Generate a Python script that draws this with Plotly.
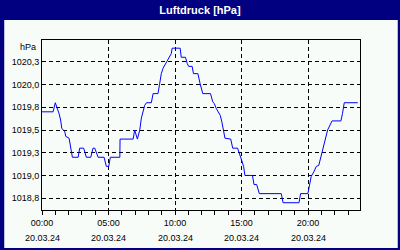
import plotly.graph_objects as go

# ---- data ----
times = ["00:00","00:50","01:00","01:06","01:17","01:24","01:29","01:43","01:47","02:02",
         "02:08","02:17","02:43","02:50","03:08","03:20","03:40","03:50","03:58","04:13",
         "04:40","04:50","05:01","05:08","05:51","05:52","06:51","06:58","07:10","07:21",
         "07:28","07:36","07:43","07:51","08:13","08:21","08:43","08:50","08:58","09:06",
         "09:13","09:20","09:28","09:35","09:43","09:47","10:23","10:28","10:47","10:55",
         "11:01","11:17","11:23","11:43","11:47","11:53","12:05","12:40","12:50","12:57",
         "13:05","13:15","13:24","13:31","13:39","13:45","14:11","14:20","14:42","14:49",
         "15:00","15:09","15:15","15:49","15:56","16:08","16:14","16:20","17:59","18:07",
         "19:19","19:26","19:59","20:06","20:14","20:26","20:37","20:48","20:56","21:03",
         "21:10","21:18","21:28","21:48","22:28","22:35","22:43","23:44"]
pressure = [1019.7,1019.7,1019.8,1019.76,1019.68,1019.61,1019.52,1019.48,1019.43,1019.41,
            1019.34,1019.2,1019.2,1019.3,1019.3,1019.2,1019.2,1019.3,1019.3,1019.2,
            1019.2,1019.1,1019.1,1019.2,1019.2,1019.4,1019.4,1019.5,1019.4,1019.5,
            1019.63,1019.7,1019.77,1019.8,1019.8,1019.9,1019.9,1020.0,1020.12,1020.18,
            1020.21,1020.25,1020.29,1020.32,1020.34,1020.4,1020.4,1020.3,1020.3,1020.23,
            1020.2,1020.2,1020.12,1020.12,1020.07,1020.01,1019.9,1019.9,1019.81,1019.79,
            1019.74,1019.7,1019.66,1019.59,1019.48,1019.41,1019.4,1019.3,1019.3,1019.24,
            1019.17,1019.1,1019.0,1019.0,1018.9,1018.9,1018.84,1018.8,1018.8,1018.7,
            1018.7,1018.8,1018.8,1018.89,1018.99,1019.04,1019.1,1019.11,1019.19,1019.26,
            1019.35,1019.43,1019.5,1019.6,1019.6,1019.68,1019.8,1019.8]
day = "2024-03-20"
x_tick_times = ["00:00", "05:00", "10:00", "15:00", "20:00"]
x_tick_dates = ["20.03.24"] * 5
y_tick_vals = [1018.75, 1019.0, 1019.25, 1019.5, 1019.75, 1020.0, 1020.25]
y_tick_text = ["1018,8", "1019,0", "1019,3", "1019,5", "1019,8", "1020,0", "1020,3"]
title = "Luftdruck [hPa]"
unit = "hPa"

NAVY = "#000080"
BODY = "#F8FCF8"
FONT = "Liberation Sans"

xs = [f"{day} {t}" for t in times]
xticks = [f"{day} {t}" for t in x_tick_times]

fig = go.Figure(go.Scatter(x=xs, y=pressure, mode="lines",
                           line=dict(color="#0000FF", width=1), hoverinfo="skip"))

W, H = 400, 250
L, R, T, B = 40, 40, 40, 40
pw, ph = W - L - R, H - T - B
def px(xp): return (xp - L) / pw
def py(yp): return (H - B - yp) / ph

shapes = [dict(type="rect", xref="paper", yref="paper", layer="below",
               x0=px(2), x1=px(398), y0=py(248), y1=py(20),
               fillcolor=BODY, line=dict(width=0))]

annotations = [dict(text=unit, xref="paper", yref="paper", x=0, y=1, xanchor="right",
                    yanchor="top", xshift=-4, showarrow=False,
                    font=dict(family=FONT, size=9, color="black"))]
for xt, d in zip(xticks, x_tick_dates):
    annotations.append(dict(text=d, xref="x", yref="paper", x=xt, y=py(238),
                            xanchor="center", yanchor="middle", showarrow=False,
                            font=dict(family=FONT, size=9, color="black")))

fig.update_layout(
    width=W, height=H, margin=dict(l=L, r=R, t=T, b=B),
    paper_bgcolor=NAVY, plot_bgcolor=BODY, showlegend=False,
    title=dict(text=f"<b>{title}</b>", x=0.5, xanchor="center", y=1 - 10 / H,
               yanchor="middle", yref="container",
               font=dict(family=FONT, size=11, color="white")),
    shapes=shapes, annotations=annotations,
)
fig.update_xaxes(type="date", range=[f"{day} 00:00", f"{day} 23:54"],
                 tickvals=xticks, ticktext=x_tick_times, tickangle=0,
                 ticks="outside", ticklen=4, tickcolor="black",
                 minor=dict(dtick=3600000, ticks="outside", ticklen=4, tickcolor="black",
                            showgrid=False),
                 showgrid=True, gridcolor="black", griddash="4px,3px", gridwidth=1,
                 showline=True, linecolor="black", linewidth=1, mirror=True,
                 zeroline=False, tickfont=dict(family=FONT, size=9, color="black"))
fig.update_yaxes(range=[1018.62, 1020.49], tickvals=y_tick_vals, ticktext=y_tick_text,
                 ticks="", showgrid=True, gridcolor="black", griddash="4px,3px",
                 gridwidth=1, showline=True, linecolor="black", linewidth=1, mirror=True,
                 zeroline=False, tickfont=dict(family=FONT, size=9, color="black"))

fig.write_html("out.html")
